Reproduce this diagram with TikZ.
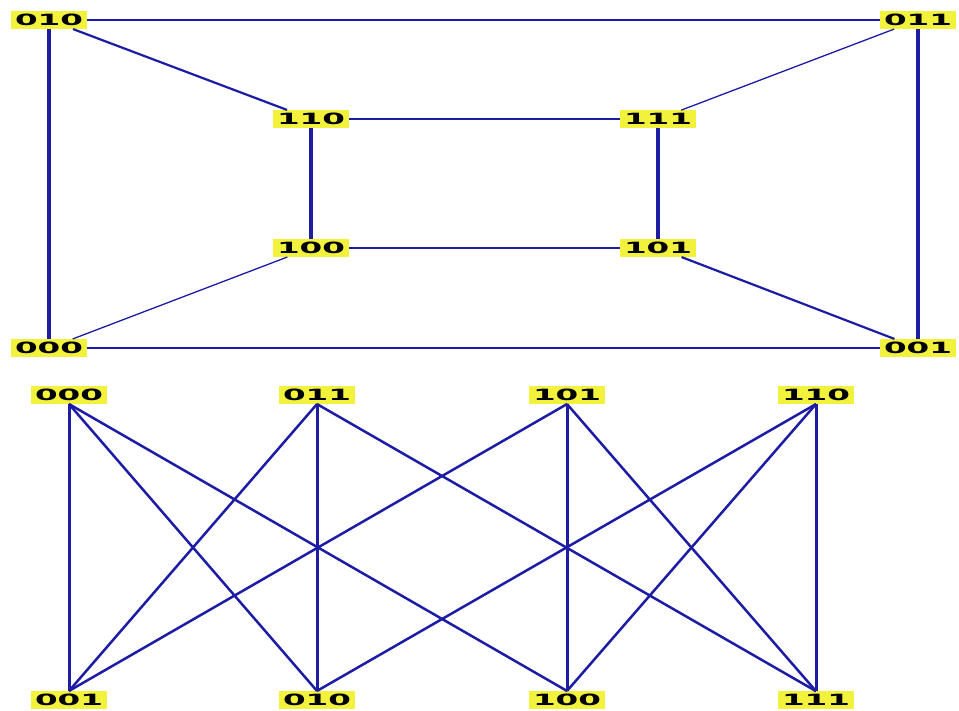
\documentclass[tikz,border=0pt]{standalone}
\usepackage{graphicx}
\usepackage{fontspec}
\newfontfamily\labfam{DejaVu Sans}
\definecolor{edgeblue}{RGB}{28,28,165}
\definecolor{labyellow}{RGB}{242,242,60}
\newcommand{\lbl}[1]{\scalebox{2.1}[1]{#1}}
\tikzset{
  lab/.style={fill=labyellow, inner xsep=4pt, inner ysep=3pt, text=black,
    font=\labfam\bfseries\fontsize{15.5}{15.5}\selectfont},
  thin edge/.style={draw=edgeblue, line width=1.3pt},
  mid edge/.style={draw=edgeblue, line width=2.2pt},
  thick edge/.style={draw=edgeblue, line width=3.6pt},
  bot edge/.style={draw=edgeblue, line width=2.5pt},
  bot vert/.style={draw=edgeblue, line width=3pt},
}
\begin{document}
\begin{tikzpicture}[x=1pt,y=-1pt]
\useasboundingbox (0,0) rectangle (959,711);
\fill[white] (0,0) rectangle (959,711);
% top graph
\node[lab] (t010) at (49,20) {\lbl{010}};
\node[lab] (t011) at (918,20) {\lbl{011}};
\node[lab] (t110) at (311,119) {\lbl{110}};
\node[lab] (t111) at (658,119) {\lbl{111}};
\node[lab] (t100) at (311,248) {\lbl{100}};
\node[lab] (t101) at (658,248) {\lbl{101}};
\node[lab] (t000) at (49,348) {\lbl{000}};
\node[lab] (t001) at (918,348) {\lbl{001}};
\draw[thin edge] (t010) -- (t011);
\draw[thin edge] (t000) -- (t001);
\draw[thin edge] (t110) -- (t111);
\draw[thin edge] (t100) -- (t101);
\draw[thick edge] (t010) -- (t000);
\draw[thick edge] (t011) -- (t001);
\draw[thick edge] (t110) -- (t100);
\draw[thick edge] (t111) -- (t101);
\draw[mid edge] (t010) -- (t110);
\draw[thin edge] (t011) -- (t111);
\draw[thin edge] (t000) -- (t100);
\draw[mid edge] (t001) -- (t101);
% bottom graph
\node[lab] (b000) at (69,395) {\lbl{000}};
\node[lab] (b011) at (317,395) {\lbl{011}};
\node[lab] (b101) at (567,395) {\lbl{101}};
\node[lab] (b110) at (816,395) {\lbl{110}};
\node[lab] (b001) at (69,700) {\lbl{001}};
\node[lab] (b010) at (317,700) {\lbl{010}};
\node[lab] (b100) at (567,700) {\lbl{100}};
\node[lab] (b111) at (816,700) {\lbl{111}};
\draw[bot vert] (b000.south) -- (b001.north);
\draw[bot vert] (b011.south) -- (b010.north);
\draw[bot vert] (b101.south) -- (b100.north);
\draw[bot vert] (b110.south) -- (b111.north);
\draw[bot edge] (b000.south) -- (b010.north);
\draw[bot edge] (b000.south) -- (b100.north);
\draw[bot edge] (b011.south) -- (b001.north);
\draw[bot edge] (b011.south) -- (b111.north);
\draw[bot edge] (b101.south) -- (b001.north);
\draw[bot edge] (b101.south) -- (b111.north);
\draw[bot edge] (b110.south) -- (b010.north);
\draw[bot edge] (b110.south) -- (b100.north);
\end{tikzpicture}
\end{document}
